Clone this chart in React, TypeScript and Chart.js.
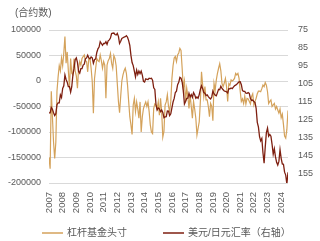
import { useEffect, useRef } from 'react';
import { Chart, registerables } from 'chart.js';

Chart.register(...registerables);

// ---- data (monthly, Jan 2007 .. Jul 2024) ----
const startYear = 2007;
const yearTicks = [2007, 2008, 2009, 2010, 2011, 2012, 2013, 2014, 2015, 2016, 2017, 2018, 2019, 2020, 2021, 2022, 2023, 2024];
const leftTicks = [-200000, -150000, -100000, -50000, 0, 50000, 100000];
const rightTicks = [75, 85, 95, 105, 115, 125, 135, 145, 155];
const seriesNames = ['杠杆基金头寸', '美元/日元汇率（右轴）'];
const unitLabel = '(合约数)';

const leveragedFunds = [
  // 2007
  -150000, -172000, -20000, -70000, -120000, -152000, -120000, -20000, 8000, 30000, 20000, 45000,
  // 2008
  30000, 55000, 87000, 35000, 57000, 20000, -14000, 44000, 15000, 12000, 44000, 20000,
  // 2009
  10000, -14000, 25000, 38000, 31000, 44000, 48000, 51000, 40000, 38000, 18000, 44000,
  // 2010
  44000, 25000, -1000, -63000, 5000, 25000, 44000, 40000, 38000, 51000, 40000, 25000,
  // 2011
  38000, 31000, -34000, 31000, 40000, 44000, 54000, 35000, 25000, 50000, 44000, 30000,
  // 2012
  -5000, -40000, -62000, -30000, 0, 12000, 20000, 25000, 15000, -8000, -40000, -70000,
  // 2013
  -86000, -105000, -47000, -34000, -60000, -41000, -55000, -73000, -41000, -100000, -70000, -54000,
  // 2014
  -47000, -41000, -50000, -41000, -60000, -86000, -100000, -103000, -54000, -45000, -47000, -55000,
  // 2015
  -41000, -67000, -34000, -60000, -110000, -99000, -47000, -41000, -27000, -50000, -60000, -40000,
  // 2016
  5000, 30000, 45000, 48000, 38000, 51000, 55000, 64000, 60000, 25000, -14000, 0,
  // 2017
  -40000, -14000, -30000, -54000, -27000, -50000, -73000, -40000, -55000, -73000, -106000, -93000,
  // 2018
  -80000, -40000, 18000, -8000, -31000, -11000, -37000, -37000, -50000, -70000, -44000, -50000,
  // 2019
  -78000, -5000, -18000, 2000, 15000, 25000, 34000, 20000, -5000, -11000, -4000, 5000,
  // 2020
  -11000, -40000, -5000, -8000, 2000, 0, 2000, 5000, 15000, 12000, 15000, 5000,
  // 2021
  -20000, -40000, -35000, -44000, -30000, -45000, -34000, -35000, -40000, -45000, -30000, -25000,
  // 2022
  -47000, -40000, -34000, -25000, -20000, -20000, -21000, -15000, -8000, -11000, -3000, -8000,
  // 2023
  -21000, -44000, -40000, -37000, -50000, -47000, -44000, -55000, -50000, -57000, -63000, -55000,
  // 2024
  -72000, -65000, -85000, -108000, -112000, -95000, -58000,
];

const usdJpy = [
  // 2007
  121, 121, 118, 119, 121, 122.5, 121.5, 116.5, 115.5, 115.5, 111, 112.5,
  // 2008
  107.5, 106, 100, 102.5, 104, 106.5, 106.5, 109.5, 106.5, 100, 96.5, 91.5,
  // 2009
  90.5, 93, 98, 99, 96.5, 96.5, 94.5, 94, 91, 90.5, 89, 90.5,
  // 2010
  91, 90, 90.5, 93.5, 91.5, 91, 87.5, 85.5, 84.5, 81.5, 82.5, 83.5,
  // 2011
  82.5, 82.5, 81.5, 83, 81, 80.5, 79.5, 77, 76.8, 76.7, 77.5, 77.8,
  // 2012
  76.9, 78.5, 82.5, 81.3, 79.7, 79.3, 78.9, 78.7, 78.2, 79, 80.9, 83.6,
  // 2013
  89.1, 93.1, 94.8, 97.8, 101, 97.3, 99.7, 97.8, 99.2, 97.8, 100.1, 103.5,
  // 2014
  103.9, 102.1, 102.4, 102.5, 101.8, 102, 101.8, 102.9, 107.1, 108, 116.4, 119.4,
  // 2015
  118.3, 118.8, 120.4, 119.5, 120.8, 123.7, 123.3, 123.2, 120, 120.1, 122.6, 121.6,
  // 2016
  118.2, 115, 113, 109.7, 109, 105.4, 104.1, 101.3, 101.8, 103.9, 108.6, 116.1,
  // 2017
  114.7, 113, 112.9, 110.1, 112.2, 110.9, 112.4, 109.8, 111, 112.9, 112.2, 112.9,
  // 2018
  110.9, 108, 106, 107.6, 109.7, 110.1, 111.4, 111, 112, 112.8, 113.3, 112.2,
  // 2019
  108.9, 110.4, 111.2, 111.6, 109.8, 108, 108.2, 106.2, 107.5, 108.2, 108.9, 109.1,
  // 2020
  109.3, 110, 107.6, 107.7, 107.2, 107.6, 106.7, 106, 105.6, 105.2, 104.4, 103.8,
  // 2021
  103.7, 105.4, 108.7, 109.1, 109.1, 110.1, 110.2, 109.8, 110.2, 113.1, 114.1, 113.9,
  // 2022
  114.8, 115.2, 118.5, 126.3, 128.8, 134.3, 136.6, 135.3, 143.2, 149, 140, 132,
  // 2023
  129.5, 134, 133, 134, 138.5, 144, 141, 145.5, 148.5, 150, 148, 141.5,
  // 2024
  146.3, 149.4, 149.6, 154, 155.6, 160.5, 154,
];

const GOLD = '#D4A25B';
const RED = '#7E1F10';
const TEXT = '#595959';
const GRID = '#D9D9D9';
const FONT = "'Liberation Sans', 'Noto Sans CJK SC', sans-serif";

export default function App() {
  const ref = useRef<HTMLCanvasElement>(null);

  useEffect(() => {
    if (!ref.current) return;
    const toPoints = (arr: number[]) => arr.map((v, i) => ({ x: startYear + i / 12, y: v }));

    const overlay = {
      id: 'overlay',
      afterDraw(chart: any) {
        const ctx = chart.ctx as CanvasRenderingContext2D;
        ctx.save();
        ctx.fillStyle = TEXT;
        ctx.textBaseline = 'middle';
        ctx.textAlign = 'left';
        ctx.font = `10px ${FONT}`;
        ctx.fillText(unitLabel, 15, 13);
        const legendX = [42, 163];
        const legendOrder = [0, 1];
        legendOrder.forEach((di, k) => {
          const ds = chart.data.datasets[di];
          const x = legendX[k];
          const y = 233;
          ctx.strokeStyle = ds.borderColor;
          ctx.lineWidth = 1.5;
          ctx.beginPath();
          ctx.moveTo(x, y);
          ctx.lineTo(x + 21, y);
          ctx.stroke();
          ctx.fillStyle = TEXT;
          ctx.fillText(ds.label, x + 25, y);
        });
        ctx.restore();
      },
    };

    const tickFont = { size: 9, family: FONT };

    const chart = new Chart(ref.current, {
      type: 'line',
      data: {
        datasets: [
          {
            label: seriesNames[0],
            data: toPoints(leveragedFunds),
            borderColor: GOLD,
            backgroundColor: GOLD,
            borderWidth: 1.2,
            pointRadius: 0,
            tension: 0,
            yAxisID: 'y',
            order: 2,
          },
          {
            label: seriesNames[1],
            data: toPoints(usdJpy),
            borderColor: RED,
            backgroundColor: RED,
            borderWidth: 1.3,
            pointRadius: 0,
            tension: 0,
            yAxisID: 'y1',
            order: 1,
          },
        ],
      },
      options: {
        responsive: false,
        animation: false,
        devicePixelRatio: 1,
        layout: { padding: { top: 30, left: 0, right: 0, bottom: 0 } },
        plugins: {
          legend: { display: false },
          tooltip: { enabled: false },
          title: { display: false },
        },
        scales: {
          x: {
            type: 'linear',
            min: 2007,
            max: 2024.5,
            grid: { display: false },
            border: { display: false },
            afterBuildTicks: (s: any) => {
              s.ticks = yearTicks.map((v) => ({ value: v }));
            },
            afterFit: (s: any) => {
              s.height = 58;
            },
            ticks: {
              autoSkip: false,
              minRotation: 90,
              maxRotation: 90,
              padding: 1,
              color: TEXT,
              font: { size: 9.5, family: FONT },
              callback: (v: any) => String(v),
            },
          },
          y: {
            position: 'left',
            min: -200000,
            max: 100000,
            afterBuildTicks: (s: any) => {
              s.ticks = leftTicks.map((v) => ({ value: v }));
            },
            afterFit: (s: any) => {
              s.width = 49;
            },
            grid: { color: GRID, drawTicks: false, lineWidth: 1 },
            border: { display: false },
            ticks: { padding: 8, color: TEXT, font: tickFont, callback: (v: any) => String(v) },
          },
          y1: {
            position: 'right',
            min: 75,
            max: 160,
            reverse: true,
            afterBuildTicks: (s: any) => {
              s.ticks = rightTicks.map((v) => ({ value: v }));
            },
            afterFit: (s: any) => {
              s.width = 32;
            },
            grid: { display: false, drawTicks: false },
            border: { display: false },
            ticks: { padding: 10, color: TEXT, font: tickFont, callback: (v: any) => String(v) },
          },
        },
      } as any,
      plugins: [overlay],
    });
    return () => chart.destroy();
  }, []);

  return (
    <div style={{ position: 'fixed', left: 0, top: 0, width: 320, height: 241, background: '#fff' }}>
      <canvas ref={ref} width={320} height={241} style={{ display: 'block' }} />
    </div>
  );
}
